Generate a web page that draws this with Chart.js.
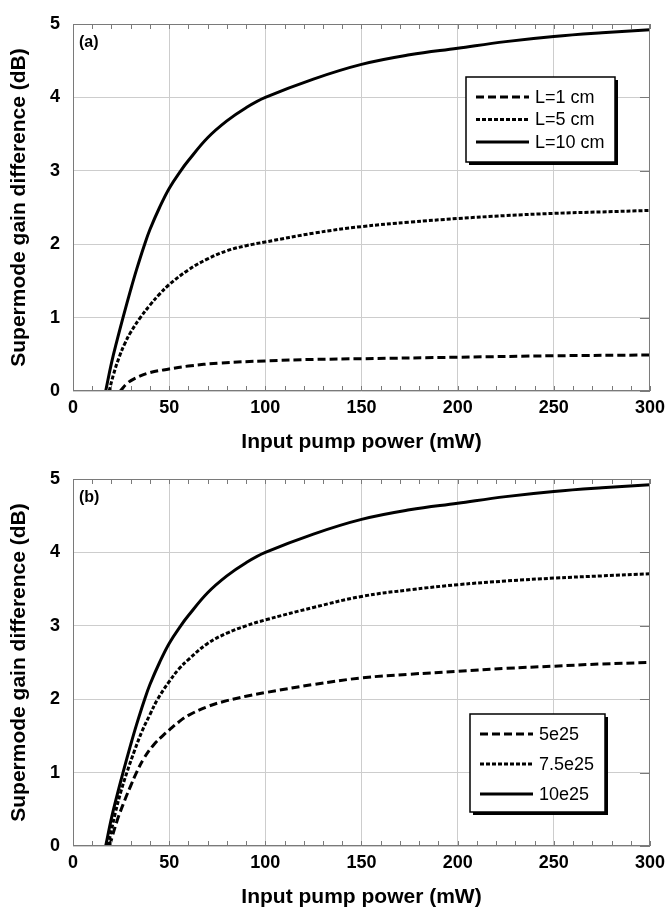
<!DOCTYPE html>
<html>
<head>
<meta charset="utf-8">
<script src="https://cdn.jsdelivr.net/npm/chart.js@4"></script>
<style>
  html, body { margin: 0; padding: 0; background: #fff; }
  canvas { display: block; }
</style>
</head>
<body>
<canvas id="chartA" width="671" height="455"></canvas>
<canvas id="chartB" width="671" height="455"></canvas>
<script>
// x = input pump power (mW), y = supermode gain difference (dB)
const powerL10 = [17, 20, 23, 26, 30, 33, 37, 40, 45, 50, 56, 60, 70, 80, 90, 100, 125, 150, 175, 200, 225, 250, 275, 300];
const gainL10  = [0, 0.38, 0.7, 1.0, 1.38, 1.65, 1.98, 2.2, 2.5, 2.76, 3.0, 3.14, 3.45, 3.68, 3.86, 4.0, 4.25, 4.45, 4.58, 4.67, 4.76, 4.83, 4.88, 4.92];

const powerL5 = [18.8, 21, 24, 27, 30, 35, 40, 45, 50, 60, 70, 80, 90, 100, 125, 150, 175, 200, 225, 250, 275, 300];
const gainL5  = [0, 0.22, 0.46, 0.65, 0.8, 1.0, 1.17, 1.32, 1.45, 1.65, 1.8, 1.91, 1.98, 2.03, 2.15, 2.24, 2.3, 2.35, 2.39, 2.42, 2.44, 2.46];

const powerL1 = [24.6, 28, 32, 40, 50, 60, 76, 100, 125, 150, 200, 250, 300];
const gainL1  = [0, 0.1, 0.17, 0.25, 0.3, 0.34, 0.38, 0.41, 0.43, 0.44, 0.46, 0.48, 0.49];

const power10e25 = powerL10;
const gain10e25  = gainL10;

const power75e25 = [18.2, 22, 25, 28, 32, 36, 40, 44, 50, 55, 60, 70, 80, 90, 100, 125, 150, 175, 200, 225, 250, 275, 300];
const gain75e25  = [0, 0.45, 0.75, 1.0, 1.3, 1.57, 1.79, 2.0, 2.24, 2.41, 2.54, 2.76, 2.9, 3.0, 3.08, 3.25, 3.4, 3.49, 3.56, 3.61, 3.65, 3.68, 3.71];

const power5e25 = [19, 23, 27, 30, 33, 37, 42, 47, 50, 55, 60, 70, 80, 90, 100, 125, 150, 175, 200, 225, 250, 275, 300];
const gain5e25  = [0, 0.35, 0.63, 0.82, 1.0, 1.2, 1.38, 1.51, 1.58, 1.69, 1.78, 1.9, 1.98, 2.04, 2.09, 2.2, 2.29, 2.34, 2.38, 2.42, 2.45, 2.48, 2.5];

const labelsA = ["L=1 cm", "L=5 cm", "L=10 cm"];
const labelsB = ["5e25", "7.5e25", "10e25"];

const xTitle = "Input pump power (mW)";
const yTitle = "Supermode gain difference (dB)";

const DASHED = [8, 4];
const DOTTED = [4, 2];
const FONT = "'Liberation Sans', Arial, sans-serif";

function pts(xs, ys) {
    return xs.map((x, i) => ({ x: x, y: ys[i] }));
}

function line(label, xs, ys, dash) {
    return {
        label: label,
        data: pts(xs, ys),
        borderColor: "#000",
        borderWidth: 3,
        borderDash: dash,
        pointRadius: 0,
        tension: 0.4,
        fill: false
    };
}

// frame, inner tick marks, panel tag and boxed legend
const framePlugin = {
    id: "frame",
    afterDraw(chart, args, opts) {
        const ctx = chart.ctx;
        const a = chart.chartArea;
        const xs = chart.scales.x, ys = chart.scales.y;
        ctx.save();
        ctx.strokeStyle = "#7a7a7a";
        ctx.lineWidth = 1;
        ctx.strokeRect(a.left + 0.5, a.top + 0.5, a.right - a.left - 1, a.bottom - a.top - 1);
        ctx.beginPath();
        for (let v = 0; v <= 300; v += 10) {
            const px = Math.round(xs.getPixelForValue(v)) + 0.5;
            ctx.moveTo(px, a.bottom); ctx.lineTo(px, a.bottom - 5);
            ctx.moveTo(px, a.top); ctx.lineTo(px, a.top + 5);
        }
        for (let v = 0; v <= 5; v += 1) {
            const py = Math.round(ys.getPixelForValue(v)) + 0.5;
            ctx.moveTo(a.right, py); ctx.lineTo(a.right - 10, py);
        }
        ctx.stroke();

        // panel tag
        ctx.fillStyle = "#000";
        ctx.font = "bold 16px " + FONT;
        ctx.textBaseline = "middle";
        ctx.textAlign = "left";
        ctx.fillText(opts.tag, a.left + 6, a.top + 19);

        // legend box
        const b = opts.box;
        ctx.fillStyle = "#000";
        ctx.fillRect(b.x + 3, b.y + 3, b.w, b.h);
        ctx.fillStyle = "#fff";
        ctx.fillRect(b.x, b.y, b.w, b.h);
        ctx.strokeStyle = "#000";
        ctx.lineWidth = 1.5;
        ctx.strokeRect(b.x, b.y, b.w, b.h);

        ctx.font = "18px " + FONT;
        chart.data.datasets.forEach((ds, i) => {
            const y = b.y + b.rowTop + i * b.rowGap;
            ctx.beginPath();
            ctx.setLineDash(ds.borderDash || []);
            ctx.lineWidth = 3;
            ctx.moveTo(b.x + 10, y);
            ctx.lineTo(b.x + 63, y);
            ctx.stroke();
            ctx.setLineDash([]);
            ctx.fillStyle = "#000";
            ctx.fillText(ds.label, b.x + b.textX, y + 1);
        });
        ctx.restore();
    }
};

function makeChart(id, datasets, tag, box) {
    const ctx = document.getElementById(id).getContext("2d");
    return new Chart(ctx, {
        type: "line",
        data: { datasets: datasets },
        plugins: [framePlugin],
        options: {
            responsive: false,
            animation: false,
            devicePixelRatio: 1,
            layout: { padding: { top: 24, right: 17, left: 0, bottom: 0 } },
            plugins: {
                legend: { display: false },
                tooltip: { enabled: false },
                frame: { tag: tag, box: box }
            },
            scales: {
                x: {
                    type: "linear",
                    min: 0,
                    max: 300,
                    afterFit: (s) => { s.height = 64; },
                    ticks: {
                        stepSize: 50,
                        color: "#000",
                        padding: 6,
                        font: { family: FONT, size: 18, weight: "bold" }
                    },
                    grid: { color: "#cdcdcd", drawTicks: false },
                    border: { display: false },
                    title: {
                        display: true,
                        text: xTitle,
                        color: "#000",
                        padding: { top: 0, bottom: 0 },
                        font: { family: FONT, size: 21, weight: "bold" }
                    }
                },
                y: {
                    min: 0,
                    max: 5,
                    afterFit: (s) => { s.width = 73; },
                    ticks: {
                        stepSize: 1,
                        color: "#000",
                        padding: 13,
                        font: { family: FONT, size: 18, weight: "bold" }
                    },
                    grid: { color: "#cdcdcd", drawTicks: false },
                    border: { display: false },
                    title: {
                        display: true,
                        text: yTitle,
                        color: "#000",
                        padding: { top: 7, bottom: 0 },
                        font: { family: FONT, size: 21, weight: "bold" }
                    }
                }
            }
        }
    });
}

makeChart("chartA", [
    line(labelsA[0], powerL1, gainL1, DASHED),
    line(labelsA[1], powerL5, gainL5, DOTTED),
    line(labelsA[2], powerL10, gainL10, [])
], "(a)", { x: 466, y: 77, w: 149, h: 85, rowTop: 20, rowGap: 22.5, textX: 69 });

makeChart("chartB", [
    line(labelsB[0], power5e25, gain5e25, DASHED),
    line(labelsB[1], power75e25, gain75e25, DOTTED),
    line(labelsB[2], power10e25, gain10e25, [])
], "(b)", { x: 470, y: 259, w: 135, h: 98, rowTop: 20, rowGap: 30, textX: 69 });
</script>
</body>
</html>
